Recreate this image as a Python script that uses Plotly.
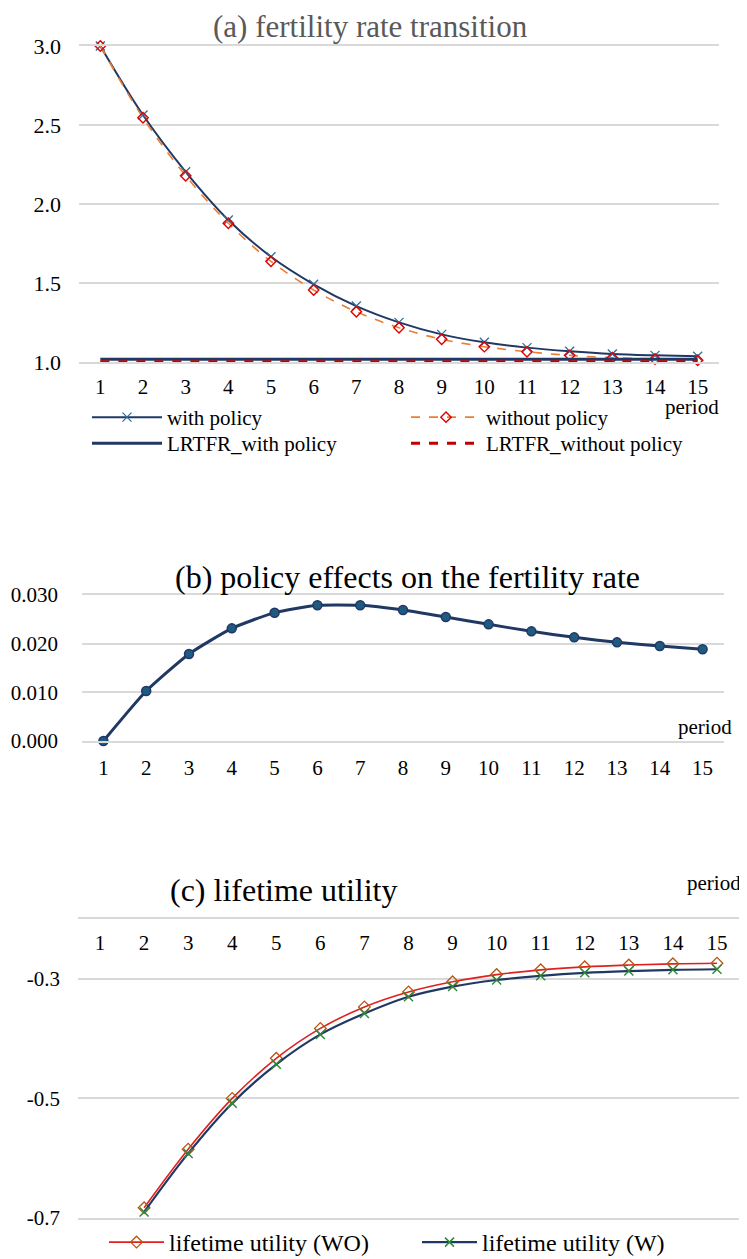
import plotly.graph_objects as go

periods = list(range(1, 16))
period_labels = [str(p) for p in periods]

# (a) fertility rate transition
with_policy = [3.0, 2.563, 2.204, 1.899, 1.666, 1.492, 1.354, 1.251, 1.175, 1.125, 1.091, 1.068, 1.051, 1.042, 1.036]
without_policy = [3.0, 2.546, 2.179, 1.878, 1.637, 1.456, 1.318, 1.217, 1.144, 1.097, 1.065, 1.042, 1.027, 1.019, 1.011]
lrtfr_with = [1.017] * 15
lrtfr_without = [1.002] * 15

# (b) policy effects on the fertility rate
policy_effect = [0.0, 0.01027, 0.01788, 0.02315, 0.02637, 0.02788, 0.02788, 0.02692, 0.02548,
                 0.02397, 0.02253, 0.0213, 0.02027, 0.01952, 0.01884]

# (c) lifetime utility
utility_wo = [None, -0.683, -0.585, -0.500, -0.433, -0.383, -0.347, -0.322, -0.305, -0.293,
              -0.285, -0.280, -0.277, -0.275, -0.274]
utility_w = [None, -0.690, -0.592, -0.508, -0.443, -0.393, -0.358, -0.330, -0.313, -0.302,
             -0.295, -0.290, -0.287, -0.285, -0.284]

# page body has an 8px margin: the figure is sized to fit the visible window
OFF = 8
W, H = 747 - OFF, 1259 - OFF
FONT = "Liberation Serif"
GRID = "#D9D9D9"
NAVY = "#203864"

def px_x(v):
    return (v - OFF) / W

def px_y(v):
    return 1 - (v - OFF) / H

fig = go.Figure()

# ---- panel (a)
fig.add_trace(go.Scatter(
    x=periods, y=with_policy, name="with policy", mode="lines+markers",
    line=dict(color=NAVY, width=2, shape="spline"),
    marker=dict(symbol="x-thin", size=9, line=dict(color="#2F6E9A", width=1.3)),
    xaxis="x", yaxis="y", legend="legend", cliponaxis=False))
fig.add_trace(go.Scatter(
    x=periods, y=without_policy, name="without policy", mode="lines+markers",
    line=dict(color="#ED7D31", width=1.6, dash="dash", shape="spline"),
    marker=dict(symbol="diamond-open", size=8, color="#E00000", line=dict(width=1.4)),
    xaxis="x", yaxis="y", legend="legend", cliponaxis=False))
fig.add_trace(go.Scatter(
    x=periods, y=lrtfr_with, name="LRTFR_with policy", mode="lines",
    line=dict(color=NAVY, width=3),
    xaxis="x", yaxis="y", legend="legend2", cliponaxis=False))
fig.add_trace(go.Scatter(
    x=periods, y=lrtfr_without, name="LRTFR_without policy", mode="lines",
    line=dict(color="#C00000", width=3, dash="dash"),
    xaxis="x", yaxis="y", legend="legend2", cliponaxis=False))

# ---- panel (b)
fig.add_trace(go.Scatter(
    x=periods, y=policy_effect, name="policy effect", mode="lines+markers",
    line=dict(color=NAVY, width=3, shape="spline", smoothing=0.5),
    marker=dict(symbol="circle", size=9, color="#1F5A80", line=dict(color=NAVY, width=1.5)),
    xaxis="x2", yaxis="y2", showlegend=False, cliponaxis=False))

# ---- panel (c)
fig.add_trace(go.Scatter(
    x=periods, y=utility_wo, name="lifetime utility (WO)", mode="lines+markers",
    line=dict(color="#E02020", width=1.6, shape="spline"),
    marker=dict(symbol="diamond-open", size=9, color="#B8550F", line=dict(width=1.3)),
    xaxis="x3", yaxis="y3", legend="legend3", cliponaxis=False))
fig.add_trace(go.Scatter(
    x=periods, y=utility_w, name="lifetime utility (W)", mode="lines+markers",
    line=dict(color=NAVY, width=2.2, shape="spline"),
    marker=dict(symbol="x-thin", size=9, line=dict(color="#2E8B3A", width=1.5)),
    xaxis="x3", yaxis="y3", legend="legend3", cliponaxis=False))

xcommon = dict(range=[0.5, 15.5], tickvals=periods, ticktext=period_labels, automargin=False,
               showgrid=False, zeroline=False, showline=True, linecolor=GRID, linewidth=1.5,
               mirror=True, ticks="", tickfont=dict(family=FONT, size=21, color="#000000"))
ycommon = dict(showgrid=True, gridcolor=GRID, gridwidth=1.5, zeroline=False, showline=False,
               automargin=False, ticks="")

leg_a = dict(orientation="h", xanchor="left", yanchor="top", entrywidth=234,
             entrywidthmode="pixels", itemwidth=70,
             font=dict(family=FONT, size=21, color="#000000"), bgcolor="rgba(0,0,0,0)")

fig.update_layout(
    width=W, height=H,
    margin=dict(l=0, r=0, t=0, b=0, autoexpand=False),
    paper_bgcolor="white", plot_bgcolor="white",
    font=dict(family=FONT, color="#000000"),
    xaxis=dict(domain=[px_x(79), px_x(719)], anchor="y", ticklabelstandoff=5, **xcommon),
    yaxis=dict(domain=[px_y(362), px_y(46)], anchor="x", range=[1.0, 3.0],
               tickvals=[1.0, 1.5, 2.0, 2.5, 3.0], ticktext=["1.0", "1.5", "2.0", "2.5", "3.0"],
               ticklabelstandoff=17, tickfont=dict(family=FONT, size=22, color="#000000"), **ycommon),
    xaxis2=dict(domain=[px_x(82), px_x(724)], anchor="y2", ticklabelstandoff=7, **xcommon),
    yaxis2=dict(domain=[px_y(741), px_y(595)], anchor="x2", range=[0.0, 0.03],
                tickvals=[0.0, 0.01, 0.02, 0.03], ticktext=["0.000", "0.010", "0.020", "0.030"],
                ticklabelstandoff=23, tickfont=dict(family=FONT, size=21, color="#000000"), **ycommon),
    xaxis3=dict(domain=[px_x(78), px_x(739)], anchor="y3", side="top", ticklabelposition="inside",
                ticklabelstandoff=18, **xcommon),
    yaxis3=dict(domain=[px_y(1218), px_y(919)], anchor="x3", range=[-0.7, -0.2],
                tickvals=[-0.7, -0.5, -0.3], ticktext=["-0.7", "-0.5", "-0.3"],
                ticklabelstandoff=17, tickfont=dict(family=FONT, size=21, color="#000000"), **ycommon),
    legend=dict(x=px_x(87), y=px_y(397), **leg_a),
    legend2=dict(x=px_x(87), y=px_y(423), **leg_a),
    legend3=dict(orientation="h", x=px_x(104), y=px_y(1220), xanchor="left", yanchor="top",
                 entrywidth=243, entrywidthmode="pixels", itemwidth=55,
                 font=dict(family=FONT, size=24, color="#000000"), bgcolor="rgba(0,0,0,0)"),
    showlegend=True,
)

annotations = [
    dict(text="(a) fertility rate transition", x=px_x(370), y=px_y(26), xanchor="center",
         font=dict(family=FONT, size=31, color="#595959")),
    dict(text="period", x=px_x(721), y=px_y(407), xanchor="right",
         font=dict(family=FONT, size=21, color="#000000")),
    dict(text="(b) policy effects on the fertility rate", x=px_x(407), y=px_y(577), xanchor="center",
         font=dict(family=FONT, size=32, color="#000000")),
    dict(text="period", x=px_x(734), y=px_y(727), xanchor="right",
         font=dict(family=FONT, size=21, color="#000000")),
    dict(text="(c) lifetime utility", x=px_x(283), y=px_y(890), xanchor="center",
         font=dict(family=FONT, size=32, color="#000000")),
    dict(text="period", x=px_x(743), y=px_y(883), xanchor="right",
         font=dict(family=FONT, size=21, color="#000000")),
]
for a in annotations:
    a.update(xref="paper", yref="paper", yanchor="middle", showarrow=False)
fig.update_layout(annotations=annotations)

fig.write_html("out.html")
